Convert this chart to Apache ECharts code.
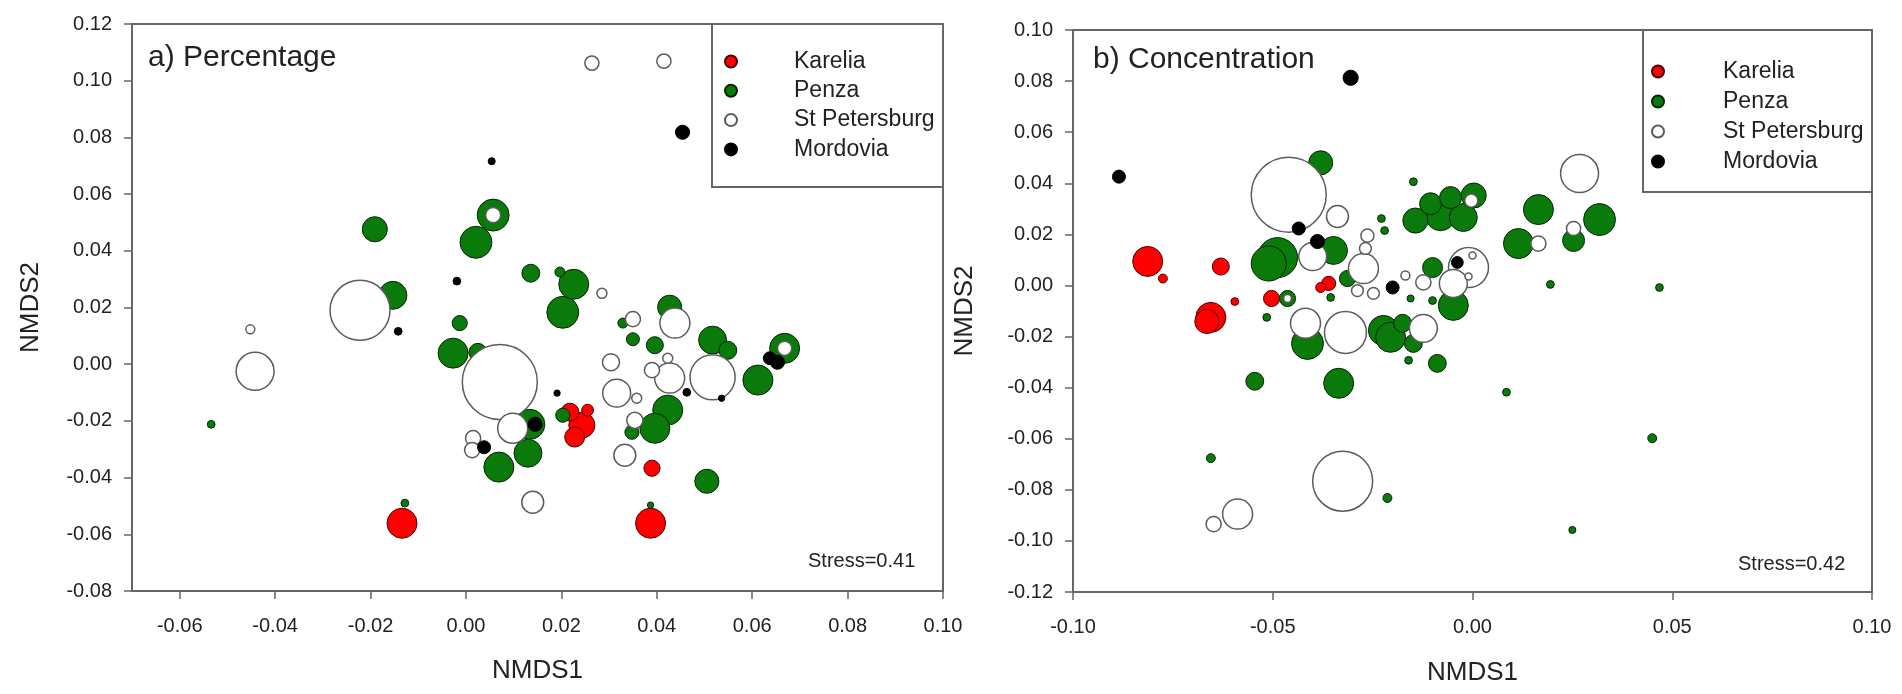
<!DOCTYPE html>
<html>
<head>
<meta charset="utf-8">
<script src="https://cdn.jsdelivr.net/npm/echarts@6/dist/echarts.min.js"></script>
<style>
  html, body { margin: 0; padding: 0; background: #fff; }
  #chart { width: 1902px; height: 694px; }
</style>
</head>
<body>
<div id="chart"></div>
<script>
// [NMDS1, NMDS2, relative abundance]
const kareliaPct = [
    [0.0218, -0.0169, 3.2], [0.0243, -0.0215, 6.8], [0.0228, -0.0257, 4.0], [0.0255, -0.0162, 1.4],
    [0.0390, -0.0367, 2.6], [0.0387, -0.0561, 9.0], [-0.0134, -0.0561, 9.0]
];
const penzaPct = [
    [-0.0191, 0.0476, 6.3], [-0.0153, 0.0243, 7.8], [-0.0013, 0.0145, 2.3], [-0.0027, 0.0039, 9.0],
    [0.0025, 0.0042, 3.2], [0.0057, 0.0526, 10.2], [0.0021, 0.0430, 10.2], [0.0136, 0.0321, 3.2],
    [0.0197, 0.0325, 1.0], [0.0226, 0.0282, 9.0], [0.0203, 0.0183, 10.2], [0.0134, -0.0212, 9.0],
    [0.0203, -0.0180, 2.0], [0.0130, -0.0314, 7.8], [0.0069, -0.0363, 9.0], [0.0427, 0.0201, 5.8],
    [0.0329, 0.0145, 1.0], [0.0350, 0.0088, 1.7], [0.0396, 0.0067, 2.9], [0.0517, 0.0085, 7.8],
    [0.0549, 0.0049, 3.2], [0.0612, -0.0056, 9.0], [0.0668, 0.0056, 9.0], [0.0423, -0.0162, 9.0],
    [0.0396, -0.0226, 9.0], [0.0348, -0.0240, 2.0], [0.0505, -0.0413, 5.8], [-0.0534, -0.0212, 0.6],
    [-0.0128, -0.0490, 0.6], [0.0387, -0.0497, 0.4]
];
const stpPct = [
    [-0.0222, 0.0190, 36.0], [-0.0452, 0.0123, 0.8], [-0.0442, -0.0025, 14.4], [0.0071, -0.0063, 56.3],
    [0.0057, 0.0526, 2.3], [0.0285, 0.0250, 1.0], [0.0304, 0.0007, 2.9], [0.0316, -0.0102, 7.8],
    [0.0098, -0.0226, 9.0], [0.0015, -0.0261, 2.3], [0.0013, -0.0303, 2.3], [0.0140, -0.0487, 4.8],
    [0.0264, 0.1062, 2.0], [0.0415, 0.1069, 2.0], [0.0350, 0.0159, 2.3], [0.0438, 0.0145, 9.0],
    [0.0423, 0.0021, 1.0], [0.0390, -0.0021, 2.3], [0.0427, -0.0049, 9.0], [0.0517, -0.0046, 20.3],
    [0.0668, 0.0056, 2.0], [0.0354, -0.0198, 2.6], [0.0333, -0.0321, 4.8], [0.0358, -0.0120, 1.0]
];
const mordoviaPct = [
    [0.0454, 0.0818, 2.0], [0.0054, 0.0716, 0.5], [-0.0019, 0.0293, 0.6], [-0.0142, 0.0116, 0.6],
    [0.0145, -0.0212, 2.0], [0.0038, -0.0293, 1.7], [0.0653, 0.0007, 2.0], [0.0637, 0.0021, 1.7],
    [0.0191, -0.0102, 0.4], [0.0463, -0.0099, 0.6], [0.0536, -0.0120, 0.4]
];

const kareliaConc = [
    [-0.0813, 0.0094, 9.0], [-0.0775, 0.0027, 0.8], [-0.0630, 0.0074, 2.9], [-0.0595, -0.0063, 0.6],
    [-0.0655, -0.0125, 9.0], [-0.0665, -0.0141, 5.8], [-0.0503, -0.0051, 2.6], [-0.0360, 0.0008, 2.0],
    [-0.0380, -0.0008, 1.0]
];
const penzaConc = [
    [-0.0380, 0.0480, 5.8], [-0.0488, 0.0109, 16.0], [-0.0510, 0.0086, 12.3], [-0.0463, -0.0051, 2.6],
    [-0.0515, -0.0125, 0.6], [-0.0348, 0.0137, 7.8], [-0.0313, 0.0027, 2.6], [-0.0355, -0.0047, 0.6],
    [-0.0228, 0.0262, 0.6], [-0.0220, 0.0215, 0.6], [-0.0413, -0.0227, 10.2], [-0.0223, -0.0176, 9.0],
    [-0.0205, -0.0203, 9.0], [-0.0175, -0.0148, 3.2], [-0.0148, -0.0227, 3.2], [-0.0545, -0.0375, 3.2],
    [-0.0335, -0.0383, 9.0], [-0.0148, 0.0406, 0.6], [-0.0143, 0.0254, 6.3], [-0.0080, 0.0273, 9.0],
    [-0.0105, 0.0320, 4.8], [-0.0055, 0.0344, 4.8], [-0.0023, 0.0266, 7.8], [0.0003, 0.0352, 6.3],
    [0.0165, 0.0297, 9.0], [0.0115, 0.0164, 9.0], [0.0318, 0.0258, 10.2], [0.0253, 0.0176, 4.8],
    [-0.0100, 0.0070, 4.0], [-0.0048, -0.0078, 9.0], [-0.0088, -0.0305, 3.2], [-0.0160, -0.0293, 0.6],
    [-0.0100, -0.0059, 0.6], [-0.0155, -0.0051, 0.5], [0.0195, 0.0004, 0.6], [0.0468, -0.0008, 0.6],
    [0.0085, -0.0418, 0.6], [0.0450, -0.0598, 0.8], [0.0250, -0.0957, 0.5], [-0.0655, -0.0676, 0.8],
    [-0.0213, -0.0832, 0.8]
];
const stpConc = [
    [-0.0460, 0.0355, 56.3], [-0.0338, 0.0270, 4.8], [-0.0400, 0.0113, 7.8], [-0.0273, 0.0066, 9.0],
    [-0.0263, 0.0195, 1.7], [-0.0268, 0.0145, 1.4], [-0.0288, -0.0020, 1.4], [-0.0248, -0.0031, 1.4],
    [-0.0168, 0.0039, 0.8], [-0.0463, -0.0051, 0.6], [-0.0418, -0.0148, 9.0], [-0.0318, -0.0184, 17.6],
    [-0.0123, -0.0168, 7.8], [-0.0010, 0.0070, 16.0], [0.0000, 0.0117, 0.5], [-0.0010, 0.0035, 0.5],
    [-0.0048, 0.0008, 7.8], [-0.0123, 0.0012, 2.3], [-0.0003, 0.0332, 1.7], [0.0165, 0.0164, 2.3],
    [0.0268, 0.0438, 14.4], [0.0253, 0.0223, 2.0], [-0.0588, -0.0895, 9.0], [-0.0648, -0.0934, 2.3],
    [-0.0325, -0.0766, 36.0]
];
const mordoviaConc = [
    [-0.0305, 0.0813, 2.3], [-0.0885, 0.0426, 1.7], [-0.0435, 0.0223, 1.7], [-0.0388, 0.0172, 2.0],
    [-0.0200, -0.0008, 1.7], [-0.0038, 0.0090, 1.4]
];

const groups = ["Karelia", "Penza", "St Petersburg", "Mordovia"];
const xTicksPct = [-0.06, -0.04, -0.02, 0, 0.02, 0.04, 0.06, 0.08, 0.1];
const xTicksConc = [-0.1, -0.05, 0, 0.05, 0.1];
const panelTitles = ["a) Percentage", "b) Concentration"];
const stressLabels = ["Stress=0.41", "Stress=0.42"];

const FONT = '"Liberation Sans", Arial, sans-serif';
const TXT = "#222";
const AXIS = "#666";

const styles = {
    "Karelia": { color: "#ff0000", borderColor: "#4a0000", borderWidth: 1, opacity: 1 },
    "Penza": { color: "#0a7a0a", borderColor: "#062406", borderWidth: 1, opacity: 1 },
    "St Petersburg": { color: "#ffffff", borderColor: "#5c5c5c", borderWidth: 1.5, opacity: 1 },
    "Mordovia": { color: "#000000", borderColor: "#000000", borderWidth: 1, opacity: 1 },
};

const sizeOf = (v) => Math.sqrt(v[2]) * 10;
const bigFirst = (arr) => arr.slice().sort((a, b) => b[2] - a[2]);

const makeSeries = (sets, idx) =>
    groups.map((g, i) => ({
        name: g,
        type: "scatter",
        xAxisIndex: idx,
        yAxisIndex: idx,
        data: bigFirst(sets[i]),
        symbolSize: sizeOf,
        itemStyle: styles[g],
        emphasis: { disabled: true },
        silent: true,
    }));

const fmt = (v) => v.toFixed(2);

const xAxisBase = {
    type: "value",
    name: "NMDS1",
    nameLocation: "middle",
    nameTextStyle: { fontFamily: FONT, fontSize: 26, color: TXT },
    axisLine: { onZero: false, lineStyle: { color: AXIS, width: 2 } },
    axisTick: { length: 8, lineStyle: { color: AXIS, width: 1.5 } },
    splitLine: { show: false },
    axisLabel: { fontFamily: FONT, fontSize: 20, color: TXT, margin: 25, formatter: fmt },
};
const yAxisBase = {
    type: "value",
    name: "NMDS2",
    nameLocation: "middle",
    nameRotate: 90,
    nameTextStyle: { fontFamily: FONT, fontSize: 26, color: TXT },
    axisLine: { onZero: false, lineStyle: { color: AXIS, width: 2 } },
    axisTick: { length: 8, lineStyle: { color: AXIS, width: 1.5 } },
    splitLine: { show: false },
    axisLabel: { fontFamily: FONT, fontSize: 20, color: TXT, margin: 20, formatter: fmt },
};

const legendBase = {
    orient: "vertical",
    data: groups,
    icon: "circle",
    itemWidth: 12,
    itemHeight: 12,
    padding: 0,
    selectedMode: false,
    textStyle: { fontFamily: FONT, fontSize: 23, color: TXT, lineHeight: 23 },
};

const option = {
    animation: false,
    backgroundColor: "#fff",
    grid: [
        { left: 132, top: 24, width: 811, height: 567, show: true, borderColor: AXIS, borderWidth: 2 },
        { left: 1073, top: 30, width: 799, height: 562, show: true, borderColor: AXIS, borderWidth: 2 },
    ],
    xAxis: [
        Object.assign({}, xAxisBase, {
            gridIndex: 0, min: -0.07, max: 0.1, nameGap: 67,
            axisLabel: Object.assign({}, xAxisBase.axisLabel, { customValues: xTicksPct }),
            axisTick: Object.assign({}, xAxisBase.axisTick, { customValues: xTicksPct }),
        }),
        Object.assign({}, xAxisBase, {
            gridIndex: 1, min: -0.1, max: 0.1, interval: 0.05, nameGap: 68,
            axisLabel: Object.assign({}, xAxisBase.axisLabel, { customValues: xTicksConc }),
            axisTick: Object.assign({}, xAxisBase.axisTick, { customValues: xTicksConc }),
        }),
    ],
    yAxis: [
        Object.assign({}, yAxisBase, { gridIndex: 0, min: -0.08, max: 0.12, interval: 0.02, nameGap: 88 }),
        Object.assign({}, yAxisBase, { gridIndex: 1, min: -0.12, max: 0.1, interval: 0.02, nameGap: 95 }),
    ],
    title: [
        { text: panelTitles[0], left: 148, top: 43, padding: 0,
          textStyle: { fontFamily: FONT, fontSize: 30, fontWeight: "normal", color: TXT } },
        { text: panelTitles[1], left: 1093, top: 45, padding: 0,
          textStyle: { fontFamily: FONT, fontSize: 30, fontWeight: "normal", color: TXT } },
        { text: stressLabels[0], left: 808, top: 551, padding: 0,
          textStyle: { fontFamily: FONT, fontSize: 20, fontWeight: "normal", color: TXT } },
        { text: stressLabels[1], left: 1738, top: 554, padding: 0,
          textStyle: { fontFamily: FONT, fontSize: 20, fontWeight: "normal", color: TXT } },
    ],
    legend: [
        Object.assign({}, legendBase, { left: 724, top: 50, itemGap: 6.3,
            textStyle: Object.assign({}, legendBase.textStyle, { padding: [0, 0, 0, 52] }) }),
        Object.assign({}, legendBase, { left: 1651, top: 60, itemGap: 7,
            textStyle: Object.assign({}, legendBase.textStyle, { padding: [0, 0, 0, 54] }) }),
    ],
    graphic: [
        { type: "rect", shape: { x: 712, y: 24, width: 231, height: 163 },
          style: { fill: "none", stroke: AXIS, lineWidth: 2 }, silent: true },
        { type: "rect", shape: { x: 1643, y: 30, width: 229, height: 162 },
          style: { fill: "none", stroke: AXIS, lineWidth: 2 }, silent: true },
    ],
    series: [
        ...makeSeries([kareliaPct, penzaPct, stpPct, mordoviaPct], 0),
        ...makeSeries([kareliaConc, penzaConc, stpConc, mordoviaConc], 1),
    ],
};

const myChart = echarts.init(document.getElementById("chart"));
myChart.setOption(option);
</script>
</body>
</html>
